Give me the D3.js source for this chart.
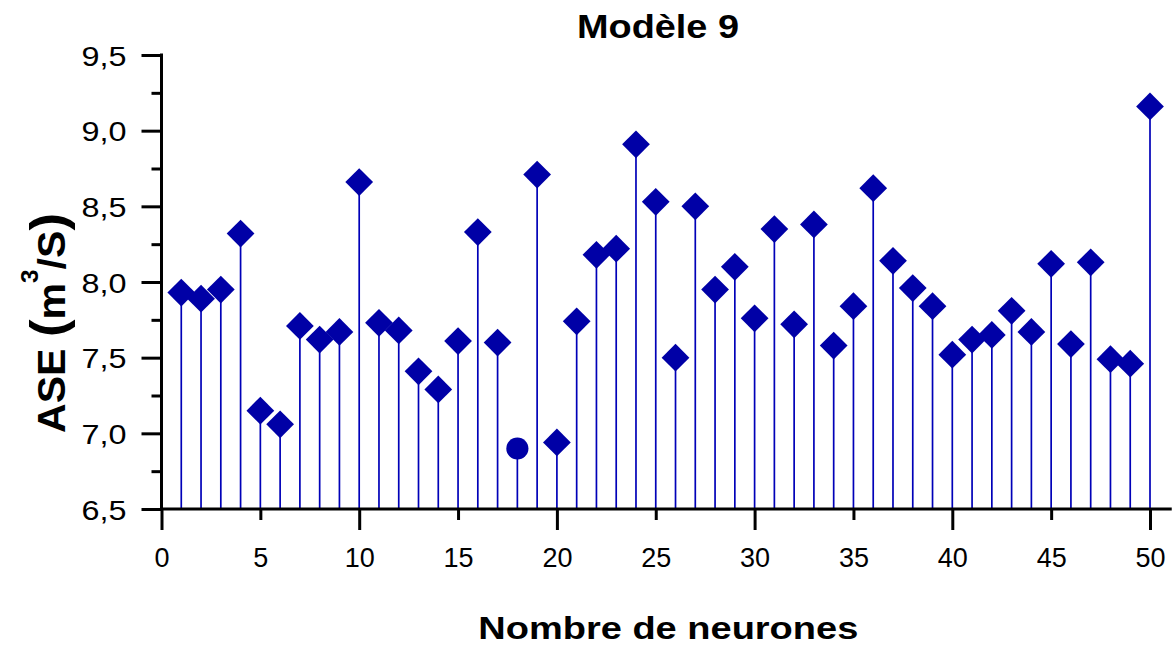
<!DOCTYPE html>
<html>
<head>
<meta charset="utf-8">
<script src="https://cdn.jsdelivr.net/npm/d3@7"></script>
<style>
  html, body { margin: 0; padding: 0; background: #ffffff; }
  svg { display: block; }
  text { font-family: "Liberation Sans", Arial, sans-serif; fill: #000; }
</style>
</head>
<body>
<svg id="chart" width="1174" height="652"></svg>
<script>
// ---- data ----
const neurons = [1,2,3,4,5,6,7,8,9,10,11,12,13,14,15,16,17,18,19,20,21,22,23,24,25,
                 26,27,28,29,30,31,32,33,34,35,36,37,38,39,40,41,42,43,44,45,46,47,48,49,50];
const aseValues = [7.93,7.89,7.95,8.32,7.15,7.06,7.71,7.62,7.67,8.66,
                   7.73,7.68,7.41,7.29,7.61,8.33,7.60,6.90,8.71,6.94,
                   7.74,8.18,8.22,8.91,8.53,7.50,8.50,7.95,8.10,7.76,
                   8.35,7.72,8.38,7.58,7.84,8.62,8.14,7.96,7.84,7.52,
                   7.62,7.65,7.81,7.67,8.12,7.59,8.13,7.49,7.46,9.16];
const circleNeurons = [18];
const xTickValues = [0,5,10,15,20,25,30,35,40,45,50];
const xMajorTicks = [0,10,20,30,40,50];
const yTickValues = [6.5,7.0,7.5,8.0,8.5,9.0,9.5];
const yMinorTicks = [6.75,7.25,7.75,8.25,8.75,9.25];
const titleText = "Modèle 9";
const xLabelText = "Nombre de neurones";

// ---- layout ----
const svg = d3.select("#chart");
const x = d3.scaleLinear().domain([0, 50]).range([161.5, 1150]);
const y = d3.scaleLinear().domain([6.5, 9.5]).range([509, 55]);
const axisColor = "#000";
const markColor = "#0000A6";
const stemColor = "#0000B8";

const fmt = d => d3.format(".1f")(d).replace(".", ",");

// stems
const data = neurons.map((n, i) => ({n, v: aseValues[i]}));
svg.append("g").selectAll("line").data(data).join("line")
  .attr("x1", d => x(d.n)).attr("x2", d => x(d.n))
  .attr("y1", d => y(d.v)).attr("y2", y(6.5))
  .attr("stroke", stemColor).attr("stroke-width", 1.7);

// markers
const diamond = d3.symbol(d3.symbolSquare, 385);
const circle = d3.symbol(d3.symbolCircle, 385);
svg.append("g").selectAll("path").data(data).join("path")
  .attr("d", d => circleNeurons.includes(d.n) ? circle() : diamond())
  .attr("transform", d => `translate(${x(d.n)},${y(d.v)})` + (circleNeurons.includes(d.n) ? "" : " rotate(45)"))
  .attr("fill", markColor);

// y axis major
const gy = svg.append("g").attr("transform", `translate(${x(0)},0)`)
  .call(d3.axisLeft(y).tickValues(yTickValues).tickSize(20).tickSizeOuter(0).tickFormat(fmt));
gy.select(".domain").remove();
gy.selectAll(".tick line").attr("stroke", axisColor).attr("stroke-width", 3);
gy.selectAll(".tick text")
  .attr("x", -35).attr("dy", 0).attr("y", 10)
  .attr("text-anchor", "end")
  .attr("font-size", 27)
  .attr("textLength", 45).attr("lengthAdjust", "spacingAndGlyphs")
  .style("font-family", '"Liberation Sans", Arial, sans-serif');

// y axis minor
const gym = svg.append("g").attr("transform", `translate(${x(0)},0)`)
  .call(d3.axisLeft(y).tickValues(yMinorTicks).tickSize(10).tickSizeOuter(0).tickFormat(""));
gym.select(".domain").remove();
gym.selectAll(".tick line").attr("stroke", axisColor).attr("stroke-width", 3);

// x axis
const gx = svg.append("g").attr("transform", `translate(0,${y(6.5)})`)
  .call(d3.axisBottom(x).tickValues(xTickValues).tickSize(20).tickSizeOuter(0).tickFormat(d3.format("d")));
gx.select(".domain").remove();
gx.selectAll(".tick line").attr("stroke", axisColor).attr("stroke-width", 3)
  .attr("y2", d => xMajorTicks.includes(d) ? 21 : 11);
gx.selectAll(".tick text")
  .attr("y", 57.5).attr("dy", 0)
  .attr("font-size", 27)
  .style("font-family", '"Liberation Sans", Arial, sans-serif');

// axis lines
svg.append("line")
  .attr("x1", x(0)).attr("x2", x(0)).attr("y1", y(9.5)).attr("y2", y(6.5))
  .attr("stroke", axisColor).attr("stroke-width", 3).attr("stroke-linecap", "square");
svg.append("line")
  .attr("x1", x(0)).attr("x2", x(51.1)).attr("y1", y(6.5)).attr("y2", y(6.5))
  .attr("stroke", axisColor).attr("stroke-width", 3.2);

// title
svg.append("text")
  .attr("x", 658).attr("y", 37.5)
  .attr("text-anchor", "middle")
  .attr("font-size", 33).attr("font-weight", "bold")
  .attr("textLength", 162).attr("lengthAdjust", "spacingAndGlyphs")
  .text(titleText);

// x label
svg.append("text")
  .attr("x", 668.3).attr("y", 639)
  .attr("text-anchor", "middle")
  .attr("font-size", 32).attr("font-weight", "bold")
  .attr("textLength", 380).attr("lengthAdjust", "spacingAndGlyphs")
  .text(xLabelText);

// y label
const yl = svg.append("text")
  .attr("transform", "translate(65,433) rotate(-90)")
  .attr("x", 0).attr("y", 0)
  .attr("font-size", 39).attr("font-weight", "bold")
  .attr("textLength", 220).attr("lengthAdjust", "spacingAndGlyphs");
yl.append("tspan").text("ASE ");
yl.append("tspan").attr("font-size", 50).text("(");
yl.append("tspan").text("m");
yl.append("tspan").attr("font-size", 23).attr("dy", -27).text("3");
yl.append("tspan").attr("dy", 27).text("/S");
yl.append("tspan").attr("font-size", 50).text(")");
</script>
</body>
</html>
